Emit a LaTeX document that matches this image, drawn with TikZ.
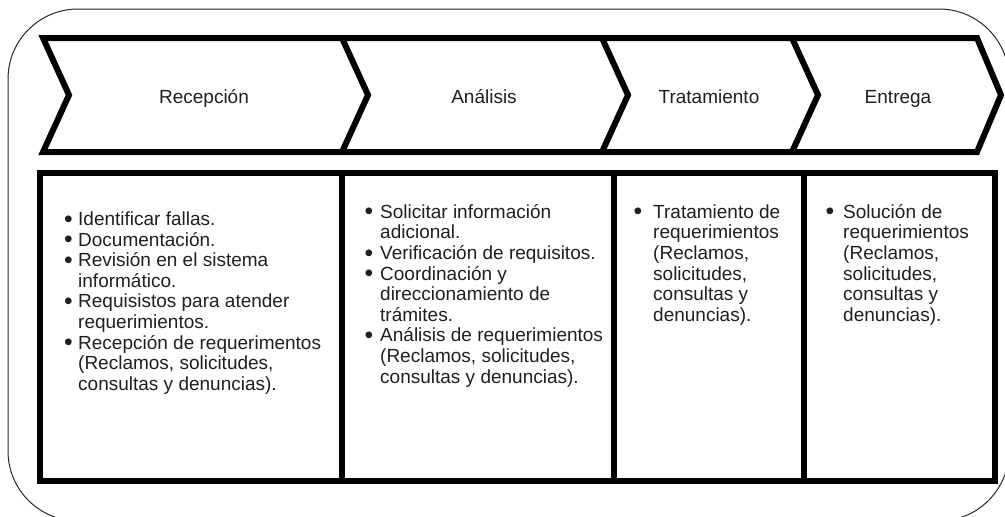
\documentclass[tikz,border=0pt]{standalone}
\usepackage{fontspec}
\setmainfont{Liberation Sans}
\definecolor{txt}{gray}{0.12}
\newcommand\bul[1]{\leavevmode\llap{\raisebox{-1.6pt}{\scalebox{1.3}{\textbullet}}\hspace{#1pt}}}
\newcommand\lstfont{\fontsize{19}{20.6}\selectfont}
\begin{document}
\begin{tikzpicture}[x=1pt,y=-1pt,
  frame/.style={line width=1pt, draw=black!85, rounded corners=70pt},
  chev/.style={line width=6pt, line join=miter},
  boxline/.style={line width=6pt, line join=miter},
  lbl/.style={font=\fontsize{19}{21}\selectfont, text=txt, inner sep=0, anchor=base},
  lst/.style={inner sep=0, anchor=base west, text=txt}]
\useasboundingbox (0,0) rectangle (1005,517);
% outer rounded frame
\draw[frame] (8,9) rectangle (1009,521);
% chevron band
\draw[chev] (43,38) -- (977,38) -- (1001,95) -- (977,152) -- (43,152) -- (69,95) -- cycle;
\draw[chev] (342,38) -- (368,95) -- (342,152);
\draw[chev] (602,38) -- (628,95) -- (602,152);
\draw[chev] (792,38) -- (818,95) -- (792,152);
% labels
\node[lbl] (recepcion) at (204,103) {Recepción};
\node[lbl] (analisis) at (484,103) {Análisis};
\node[lbl] (tratamiento) at (709,103) {Tratamiento};
\node[lbl] (entrega) at (898,103) {Entrega};
% boxes
\draw[boxline] (40,173) rectangle (995,481);
\draw[boxline] (342,173) -- (342,481);
\draw[boxline] (614,173) -- (614,481);
\draw[boxline] (804,173) -- (804,481);
% lists
\node[lst] (l1) at (78,225.5) {\parbox[t]{300pt}{\raggedright\lstfont
\bul{5.5}Identificar fallas.\\
\bul{5.5}Documentación.\\
\bul{5.5}Revisión en el sistema\\
informático.\\
\bul{5.5}Requisistos para atender\\
requerimientos.\\
\bul{5.5}Recepción de requerimentos\\
(Reclamos, solicitudes,\\
consultas y denuncias).}};
\node[lst] (l2) at (380,218.3) {\parbox[t]{300pt}{\raggedright\lstfont
\bul{7}Solicitar información\\
adicional.\\
\bul{7}Verificación de requisitos.\\
\bul{7}Coordinación y\\
direccionamiento de\\
trámites.\\
\bul{7}Análisis de requerimientos\\
(Reclamos, solicitudes,\\
consultas y denuncias).}};
\node[lst] (l3) at (653,218.3) {\parbox[t]{200pt}{\raggedright\lstfont
\bul{11}Tratamiento de\\
requerimientos\\
(Reclamos,\\
solicitudes,\\
consultas y\\
denuncias).}};
\node[lst] (l4) at (843,218.3) {\parbox[t]{200pt}{\raggedright\lstfont
\bul{9}Solución de\\
requerimientos\\
(Reclamos,\\
solicitudes,\\
consultas y\\
denuncias).}};
\end{tikzpicture}
\end{document}
